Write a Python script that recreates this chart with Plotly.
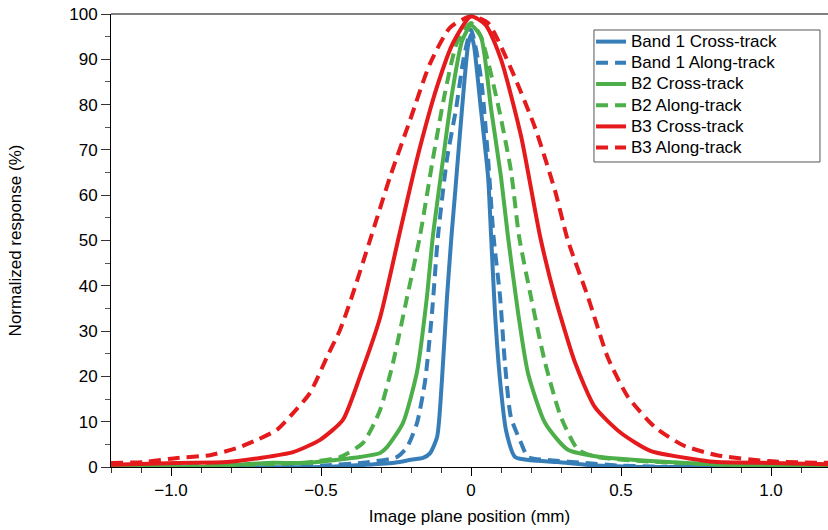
import plotly.graph_objects as go

# ---- data ----
b1c_x = [-1.2, -0.5, -0.35, -0.25, -0.2, -0.16, -0.137, -0.113, -0.097, -0.08, -0.065, -0.053, -0.03, -0.01, 0.0,
         0.01, 0.033, 0.057, 0.067, 0.08, 0.097, 0.117, 0.147, 0.2, 0.29, 0.4, 0.6, 1.2]
b1c_y = [0.0, 0.0, 0.5, 1.0, 1.6, 2.0, 3.0, 6.6, 19, 37.5, 51, 60.5, 79, 93, 95.5,
         93, 79, 64, 51, 34, 19, 8, 2.2, 1.5, 1.1, 0.4, 0.0, 0.0]

b1a_x = [-1.2, -0.6, -0.5, -0.35, -0.247, -0.213, -0.18, -0.153, -0.13, -0.11, -0.08, -0.05, -0.025, 0.0,
         0.033, 0.057, 0.075, 0.097, 0.113, 0.133, 0.167, 0.19, 0.267, 0.38, 0.5, 0.7, 1.2]
b1a_y = [0.0, 0.0, 0.3, 1.0, 2.2, 4.4, 9.7, 19, 34, 51, 68, 79, 90, 96.5,
         86, 68, 51, 37.5, 23, 11, 5.3, 2.2, 1.5, 0.9, 0.3, 0.0, 0.0]

b2c_x = [-1.2, -0.9, -0.68, -0.547, -0.46, -0.37, -0.303, -0.28, -0.227, -0.18, -0.147, -0.127, -0.093, -0.063, -0.03, 0.0,
         0.033, 0.067, 0.1, 0.123, 0.157, 0.19, 0.247, 0.323, 0.433, 0.657, 0.9, 1.2]
b2c_y = [0.0, 0.0, 0.9, 0.9, 1.5, 2.2, 3.1, 4.4, 9.7, 21, 37.5, 51, 68, 82.5, 94, 97.5,
         95, 79, 64, 51, 34, 20.7, 9.7, 3.8, 2.2, 1.1, 0.4, 0.2]

b2a_x = [-1.2, -0.8, -0.55, -0.437, -0.36, -0.303, -0.26, -0.213, -0.17, -0.127, -0.087, -0.047, 0.0,
         0.033, 0.09, 0.133, 0.16, 0.2, 0.247, 0.3, 0.357, 0.42, 0.6, 0.9, 1.2]
b2a_y = [0.0, 0.4, 1.0, 2.2, 5.3, 12.6, 23, 37.5, 51, 68, 82.5, 93.6, 98,
         95, 80, 65.5, 51, 37.5, 23, 11, 3.8, 2.2, 1.2, 0.4, 0.2]

b3c_x = [-1.2, -0.98, -0.813, -0.703, -0.593, -0.503, -0.427, -0.37, -0.303, -0.24, -0.18, -0.113, -0.06, 0.0,
         0.05, 0.1, 0.167, 0.23, 0.28, 0.347, 0.413, 0.5, 0.6, 0.767, 0.82, 1.0, 1.2]
b3c_y = [0.5, 0.9, 1.1, 2.0, 3.3, 6.0, 10.4, 20, 33, 51, 68, 84, 93.6, 99.5,
         97.5, 90, 73, 51, 37.5, 23, 13.2, 7.5, 3.5, 1.5, 1.1, 0.9, 0.6]

b3a_x = [-1.2, -1.09, -0.98, -0.87, -0.78, -0.713, -0.647, -0.593, -0.537, -0.48, -0.437, -0.40, -0.337, -0.27, -0.203, -0.137, -0.07, 0.0,
         0.057, 0.133, 0.213, 0.28, 0.323, 0.39, 0.457, 0.523, 0.613, 0.707, 0.82, 0.99, 1.2]
b3a_y = [0.9, 1.1, 2.0, 2.6, 4.2, 6.0, 8.2, 11.9, 16.3, 24.3, 30.2, 37, 50, 64, 76.6, 89, 97, 99.5,
         98, 88, 75, 61, 50, 37.5, 24, 15.5, 8.8, 4.8, 2.6, 1.3, 0.9]

names = ["Band 1 Cross-track", "Band 1 Along-track", "B2 Cross-track",
         "B2 Along-track", "B3 Cross-track", "B3 Along-track"]
xs = [b1c_x, b1a_x, b2c_x, b2a_x, b3c_x, b3a_x]
ys = [b1c_y, b1a_y, b2c_y, b2a_y, b3c_y, b3a_y]
colors = ["#377eb8", "#377eb8", "#4daf4a", "#4daf4a", "#e41a1c", "#e41a1c"]
dashes = ["solid", "12px,7px", "solid", "12px,7px", "solid", "12px,7px"]

xtick_vals = [-1.0, -0.5, 0.0, 0.5, 1.0]
xtick_text = ["\u22121.0", "\u22120.5", "0", "0.5", "1.0"]

FONT = "Liberation Sans, Arial, Helvetica, sans-serif"

fig = go.Figure()
for x, y, n, c, d in zip(xs, ys, names, colors, dashes):
    fig.add_trace(go.Scatter(x=x, y=y, name='<span style="font-size:17px">' + n + '</span>',
                             mode="lines",
                             line=dict(color=c, width=4, dash=d, shape="spline", smoothing=0.6)))

fig.update_layout(
    width=828, height=530,
    margin=dict(l=111, r=0, t=14, b=63),
    paper_bgcolor="white", plot_bgcolor="white",
    font=dict(family=FONT, size=17, color="black"),
    legend=dict(x=0.6695, y=0.9735, xanchor="left", yanchor="top",
                borderwidth=0, bgcolor="rgba(255,255,255,0)",
                font=dict(size=14), tracegroupgap=0, itemwidth=30),
    showlegend=True,
    shapes=[
        dict(type="line", xref="paper", yref="paper", x0=0, x1=1, y0=1, y1=1,
             line=dict(color="#555555", width=1.5)),
        # legend frame
        dict(type="rect", xref="paper", yref="paper", x0=0.6736, x1=0.9888, y0=0.6733, y1=0.9647,
             line=dict(color="#555555", width=1), fillcolor="white", layer="above"),
    ],
)
fig.update_xaxes(range=[-1.2, 1.19], showgrid=False, zeroline=False,
                 showline=True, linecolor="black", linewidth=1,
                 ticks="outside", ticklen=8, tickcolor="black",
                 tickvals=xtick_vals, ticktext=xtick_text,
                 minor=dict(dtick=0.1, tick0=0, ticks="outside", ticklen=5, tickcolor="#333333"),
                 title=dict(text="Image plane position (mm)", font=dict(size=17), standoff=10))
fig.update_yaxes(range=[0, 100], showgrid=False, zeroline=False,
                 showline=True, linecolor="black", linewidth=1,
                 ticks="outside", ticklen=9, tickcolor="#333333", dtick=10, tick0=0,
                 minor=dict(dtick=5, tick0=0, ticks="outside", ticklen=5, tickcolor="#555555"),
                 title=dict(text="Normalized response (%)", font=dict(size=17), standoff=43))

fig.write_html("out.html")
